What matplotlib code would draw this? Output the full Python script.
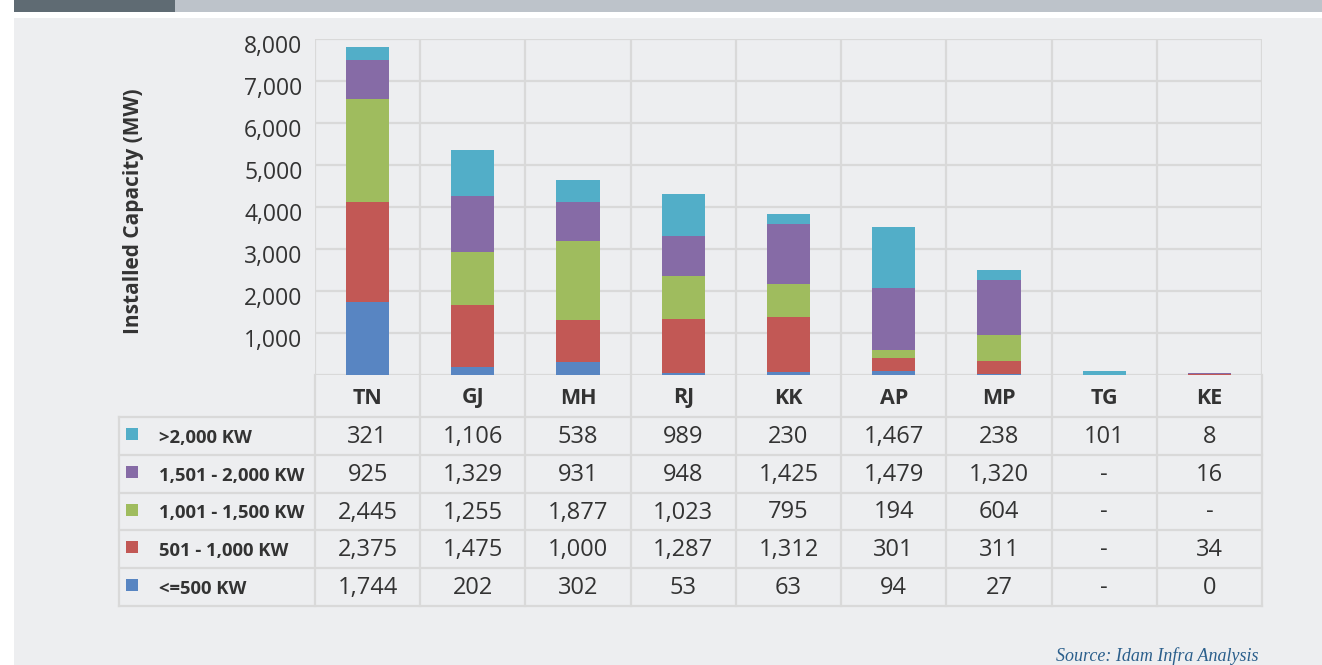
import matplotlib
matplotlib.use('Agg')
import matplotlib.pyplot as plt
import matplotlib.patches as mpatches
from matplotlib.transforms import ScaledTranslation

plt.rcParams['font.family'] = ['Open Sans', 'DejaVu Sans']

W, H = 1322, 665

# ── Data ─────────────────────────────────────────────────────────────────────
states = ['TN', 'GJ', 'MH', 'RJ', 'KK', 'AP', 'MP', 'TG', 'KE']
# table order (top row first); None = "-"
bands = ['>2,000 KW', '1,501 - 2,000 KW', '1,001 - 1,500 KW', '501 - 1,000 KW', '<=500 KW']
gt2000 = [321, 1106, 538, 989, 230, 1467, 238, 101, 8]
r1501_2000 = [925, 1329, 931, 948, 1425, 1479, 1320, None, 16]
r1001_1500 = [2445, 1255, 1877, 1023, 795, 194, 604, None, None]
r501_1000 = [2375, 1475, 1000, 1287, 1312, 301, 311, None, 34]
le500 = [1744, 202, 302, 53, 63, 94, 27, None, 0]
series = [gt2000, r1501_2000, r1001_1500, r501_1000, le500]
colors = ['#52AEC8', '#866BA6', '#9FBC5E', '#C25855', '#5885C2']

# ── Figure ───────────────────────────────────────────────────────────────────
fig = plt.figure(figsize=(W / 100, H / 100), dpi=100)
fig.patch.set_facecolor('white')

bg = fig.add_axes([0, 0, 1, 1], zorder=0)
bg.set_xlim(0, W)
bg.set_ylim(H, 0)
bg.axis('off')
bg.add_patch(mpatches.Rectangle((14, 18), W - 14, H - 18, color='#EDEEF0', lw=0))
bg.add_patch(mpatches.Rectangle((14, 0), 161, 12, color='#5F6B73', lw=0))
bg.add_patch(mpatches.Rectangle((175, 0), W - 175, 12, color='#BDC3CA', lw=0))

# chart geometry (pixels)
PL, PR, PT, PB = 315, 1262, 39, 375
colw = (PR - PL) / len(states)
GRID = '#D9D9D9'
TXT = '#333333'

ax = fig.add_axes([PL / W, (H - PB) / H, (PR - PL) / W, (PB - PT) / H], zorder=1)
ax.set_facecolor('none')
ax.set_xlim(0, len(states))
ax.set_ylim(0, 8000)
for s in ax.spines.values():
    s.set_visible(False)
ax.set_yticks(range(1000, 8001, 1000))
ax.set_yticklabels([f'{v:,}' for v in range(1000, 8001, 1000)], fontsize=16.5, color=TXT)
ax.tick_params(axis='y', length=0, pad=9)
shift = ScaledTranslation(0, -5 / 100, fig.dpi_scale_trans)
for lab in ax.get_yticklabels():
    lab.set_transform(lab.get_transform() + shift)
ax.set_xticks([])
ax.grid(axis='y', color=GRID, lw=1.6)
ax.axhline(0, color=GRID, lw=1.6)
for i in range(len(states) + 1):
    ax.axvline(i, color=GRID, lw=1.6)
ax.set_axisbelow(True)

bg.text(133, 211, 'Installed Capacity (MW)', rotation=90, ha='center', va='center',
        fontsize=15, fontweight='bold', color=TXT)

xs = [i + 0.5 for i in range(len(states))]
bottom = [0] * len(states)
for vals, col in zip(series[::-1], colors[::-1]):
    v = [x if x is not None else 0 for x in vals]
    ax.bar(xs, v, width=0.41, bottom=bottom, color=col, zorder=3)
    bottom = [b + x for b, x in zip(bottom, v)]

# ── Table ────────────────────────────────────────────────────────────────────
TL = 119
hdr_bot = 417
rowh = 37.8
tab_bot = hdr_bot + rowh * len(bands)

for i, st in enumerate(states):
    bg.text(PL + (i + 0.5) * colw, (PB + hdr_bot) / 2 + 2, st, ha='center', va='center',
            fontsize=15.5, fontweight='bold', color=TXT)

for i in range(len(states) + 1):
    bg.plot([PL + i * colw] * 2, [PB, tab_bot], color=GRID, lw=1.6)
bg.plot([TL, TL], [hdr_bot, tab_bot], color=GRID, lw=1.6)
for r in range(len(bands) + 1):
    y = hdr_bot + r * rowh
    bg.plot([TL, PR], [y, y], color=GRID, lw=1.6)

for r, (lab, vals, col) in enumerate(zip(bands, series, colors)):
    yc = hdr_bot + (r + 0.5) * rowh
    bg.add_patch(mpatches.Rectangle((126, yc - 8), 12, 12, color=col, lw=0))
    bg.text(159, yc + 2, lab, ha='left', va='center', fontsize=13.3,
            fontweight='bold', color=TXT)
    for i, v in enumerate(vals):
        s = '-' if v is None else f'{v:,}'
        bg.text(PL + (i + 0.5) * colw, yc + 1, s, ha='center', va='center',
                fontsize=17, color=TXT)

bg.text(1258, 661, 'Source: Idam Infra Analysis', ha='right', va='baseline',
        fontsize=13, style='italic', color='#2B5F8C', family='Liberation Serif')

fig.savefig('out.png', dpi=100, facecolor=fig.get_facecolor())
